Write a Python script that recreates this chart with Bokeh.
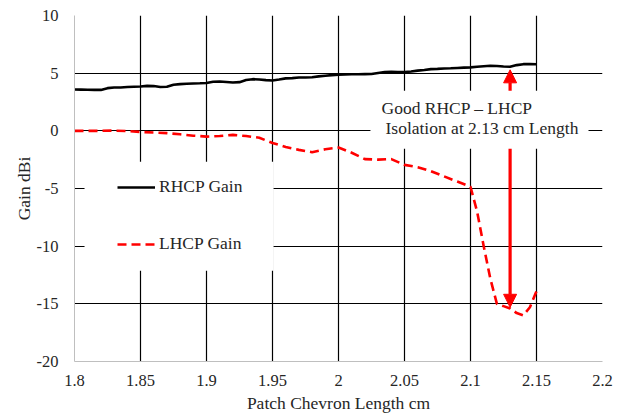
from bokeh.plotting import figure
from bokeh.embed import file_html
from bokeh.resources import INLINE
from bokeh.models import (Legend, LegendItem, Arrow, NormalHead, BoxAnnotation,
                          Label, FixedTicker, Range1d)

# ---------------- data ----------------
rhcp_x = [1.800, 1.805, 1.810, 1.815, 1.820, 1.825, 1.830, 1.835, 1.840, 1.845,
          1.850, 1.855, 1.860, 1.865, 1.870, 1.875, 1.880, 1.885, 1.890, 1.895,
          1.900, 1.905, 1.910, 1.915, 1.920, 1.925, 1.930, 1.935, 1.940, 1.945,
          1.950, 1.955, 1.960, 1.965, 1.970, 1.975, 1.980, 1.985, 1.990, 1.995,
          2.000, 2.005, 2.010, 2.015, 2.020, 2.025, 2.030, 2.035, 2.040, 2.045,
          2.050, 2.055, 2.060, 2.065, 2.070, 2.075, 2.080, 2.085, 2.090, 2.095,
          2.100, 2.105, 2.110, 2.115, 2.120, 2.125, 2.130, 2.135, 2.140, 2.145,
          2.150]
rhcp_gain = [3.58, 3.57, 3.56, 3.55, 3.55, 3.70, 3.76, 3.76, 3.80, 3.82,
             3.84, 3.90, 3.88, 3.80, 3.82, 4.00, 4.05, 4.08, 4.10, 4.12,
             4.15, 4.25, 4.28, 4.24, 4.19, 4.22, 4.40, 4.48, 4.45, 4.40,
             4.37, 4.45, 4.55, 4.57, 4.62, 4.63, 4.64, 4.72, 4.78, 4.83,
             4.86, 4.88, 4.90, 4.91, 4.92, 4.93, 5.02, 5.10, 5.12, 5.10,
             5.09, 5.15, 5.22, 5.28, 5.35, 5.37, 5.40, 5.42, 5.45, 5.48,
             5.50, 5.55, 5.60, 5.64, 5.62, 5.58, 5.55, 5.70, 5.78, 5.78,
             5.77]

lhcp_x = [1.80, 1.81, 1.82, 1.83, 1.84, 1.85, 1.86, 1.87, 1.88, 1.89,
          1.90, 1.91, 1.92, 1.93, 1.94, 1.95, 1.96, 1.97, 1.98, 1.99,
          2.00, 2.01, 2.02, 2.03, 2.04, 2.05, 2.06, 2.07, 2.08, 2.09,
          2.10, 2.105, 2.11, 2.115, 2.12, 2.125, 2.13, 2.135, 2.14, 2.145,
          2.15]
lhcp_gain = [0.0, 0.0, 0.0, 0.02, -0.02, -0.1, -0.15, -0.2, -0.3, -0.42,
             -0.5, -0.45, -0.35, -0.45, -0.6, -1.05, -1.4, -1.65, -1.85, -1.6,
             -1.45, -1.9, -2.45, -2.5, -2.45, -2.95, -3.15, -3.5, -3.95, -4.4,
             -4.85, -7.0, -10.0, -12.8, -15.0, -15.2, -15.4, -15.8, -16.0, -15.3,
             -13.9]

x_ticks = [1.8, 1.85, 1.9, 1.95, 2.0, 2.05, 2.1, 2.15, 2.2]
x_tick_labels = ["1.8", "1.85", "1.9", "1.95", "2", "2.05", "2.1", "2.15", "2.2"]
y_ticks = [-20, -15, -10, -5, 0, 5, 10]
y_tick_labels = ["-20", "-15", "-10", "-5", "0", "5", "10"]

note_line1 = "Good RHCP \u2013 LHCP"
note_line2 = "Isolation at 2.13 cm Length"
marker_x = 2.13
marker_top = 5.29
marker_bottom = -15.3

FONT = "Liberation Serif"
TXT = "#262626"

# ---------------- figure ----------------
p = figure(width=620, height=418, output_backend="svg", toolbar_location=None,
           x_range=Range1d(1.8, 2.2), y_range=Range1d(-20, 10),
           min_border_left=74, min_border_right=18, min_border_top=15,
           min_border_bottom=57)
p.outline_line_color = None
p.background_fill_color = "white"
p.border_fill_color = "white"

for ax in (p.xaxis[0], p.yaxis[0]):
    ax.axis_line_color = "#bfbfbf"
    ax.axis_line_width = 1
    ax.major_tick_line_color = None
    ax.minor_tick_line_color = None
    ax.major_label_text_font = FONT
    ax.major_label_text_font_size = "16.5px"
    ax.major_label_text_color = TXT
    ax.axis_label_text_font = FONT
    ax.axis_label_text_font_size = "17.5px"
    ax.axis_label_text_font_style = "normal"
    ax.axis_label_text_color = TXT

p.xaxis.ticker = FixedTicker(ticks=x_ticks)
p.xaxis.major_label_overrides = dict(zip(x_ticks, x_tick_labels))
p.yaxis.ticker = FixedTicker(ticks=y_ticks)
p.yaxis.major_label_overrides = dict(zip(y_ticks, y_tick_labels))
p.xaxis.axis_label = "Patch Chevron Length cm"
p.yaxis.axis_label = "Gain dBi"
p.xaxis.major_label_standoff = 7
p.yaxis.major_label_standoff = 10
p.xaxis.axis_label_standoff = 4
p.yaxis.axis_label_standoff = 0

p.xgrid.ticker = FixedTicker(ticks=x_ticks)
p.ygrid.ticker = FixedTicker(ticks=y_ticks)
for g in (p.xgrid[0], p.ygrid[0]):
    g.grid_line_color = "black"
    g.grid_line_width = 1.2

r1 = p.line(rhcp_x, rhcp_gain, line_color="black", line_width=2.6)
r2 = p.line(lhcp_x, lhcp_gain, line_color="red", line_width=2.6, line_dash="9 5")

# arrows (hidden in the middle by the note box)
p.add_layout(Arrow(x_start=marker_x, y_start=0, x_end=marker_x, y_end=marker_top,
                   line_color="red", line_width=3.2,
                   end=NormalHead(size=13, fill_color="red", line_color="red")))
p.add_layout(Arrow(x_start=marker_x, y_start=0, x_end=marker_x, y_end=marker_bottom,
                   line_color="red", line_width=3.2,
                   end=NormalHead(size=13, fill_color="red", line_color="red")))

# white boxes behind legend and note
p.add_layout(BoxAnnotation(left=1.8076, right=1.9508, top=-2.69, bottom=-12.14,
                           fill_color="white", fill_alpha=1, line_color=None))
p.add_layout(BoxAnnotation(left=2.0242, right=2.1894, top=3.47, bottom=-1.56,
                           fill_color="white", fill_alpha=1, line_color=None))

p.add_layout(Label(x=2.0326, y=1.99, text=note_line1, text_baseline="middle",
                   text_font=FONT, text_font_size="17.5px", text_color=TXT))
p.add_layout(Label(x=2.0356, y=0.26, text=note_line2, text_baseline="middle",
                   text_font=FONT, text_font_size="17.5px", text_color=TXT))

legend = Legend(items=[LegendItem(label="RHCP Gain", renderers=[r1]),
                       LegendItem(label="LHCP Gain", renderers=[r2])],
                location=(43, 107), padding=16, spacing=36, margin=0,
                glyph_width=38, glyph_height=20, label_height=20,
                label_standoff=4, label_text_font=FONT,
                label_text_font_size="17.5px", label_text_color=TXT,
                border_line_color=None, background_fill_color="white",
                background_fill_alpha=0)
p.add_layout(legend)

open("out.html", "w").write(file_html(p, INLINE))
